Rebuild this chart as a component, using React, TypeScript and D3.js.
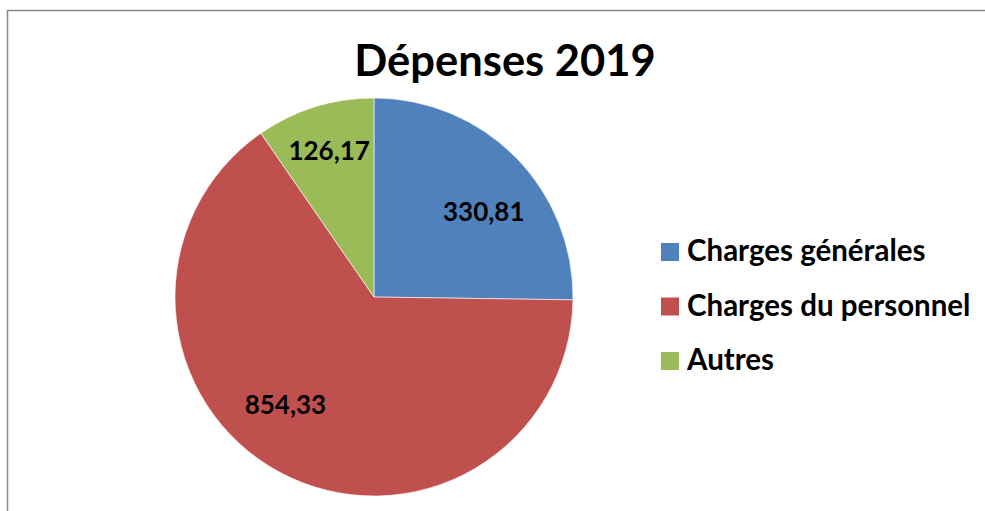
import React from "react";
import * as d3 from "d3";

const categories = ["Charges générales", "Charges du personnel", "Autres"];
const values = [330.81, 854.33, 126.17];
const valueLabels = ["330,81", "854,33", "126,17"];
const colors = ["#4F81BD", "#C0504D", "#9BBB59"];
const title = "Dépenses 2019";

// label placement tweaks (angle offset in degrees, radius fraction)
const labelAngleOffset = [6.6, 11.4, 0.3];
const labelRadiusFrac = [0.7, 0.7, 0.77];

const W = 985;
const H = 511;
const FONT = "Lato, 'Open Sans', sans-serif";

export default function App() {
  const cx = 374;
  const cy = 297;
  const R = 199;

  const pie = d3
    .pie<number>()
    .sort(null)
    .value((d) => d)
    .startAngle(0)
    .endAngle(2 * Math.PI);
  const arcs = pie(values);
  const arc = d3.arc<d3.PieArcDatum<number>>().innerRadius(0).outerRadius(R);

  const legendX = 661;
  const legendY0 = 243;
  const legendStep = 54.5;
  const sq = 18;

  return (
    <div style={{ position: "fixed", left: 0, top: 0, width: W, height: H, background: "#fff" }}>
      <svg width={W} height={H} style={{ display: "block" }}>
        <rect x={7.5} y={10.5} width={1100} height={700} fill="#fff" stroke="#8a8a8a" strokeWidth={1.5} />
        <text
          x={505}
          y={76}
          textAnchor="middle"
          fontFamily={FONT}
          fontWeight={700}
          fontSize={43.5}
          fill="#000"
        >
          {title}
        </text>
        <g transform={`translate(${cx},${cy})`}>
          {arcs.map((a, i) => (
            <path key={i} d={arc(a) || ""} fill={colors[i]} stroke="#fff" strokeWidth={0.6} />
          ))}
          {arcs.map((a, i) => {
            const mid = (a.startAngle + a.endAngle) / 2 + (labelAngleOffset[i] * Math.PI) / 180;
            const r = R * labelRadiusFrac[i];
            const x = r * Math.sin(mid);
            const y = -r * Math.cos(mid);
            return (
              <text
                key={"l" + i}
                x={x}
                y={y}
                dy="0.36em"
                textAnchor="middle"
                fontFamily={FONT}
                fontWeight={700}
                fontSize={26}
                fill="#000"
              >
                {valueLabels[i]}
              </text>
            );
          })}
        </g>
        {categories.map((c, i) => (
          <g key={c} transform={`translate(${legendX},${legendY0 + i * legendStep})`}>
            <rect x={0} y={0} width={sq} height={sq} fill={colors[i]} />
            <text x={26} y={sq} fontFamily={FONT} fontWeight={700} fontSize={29.5} fill="#000">
              {c}
            </text>
          </g>
        ))}
      </svg>
    </div>
  );
}
